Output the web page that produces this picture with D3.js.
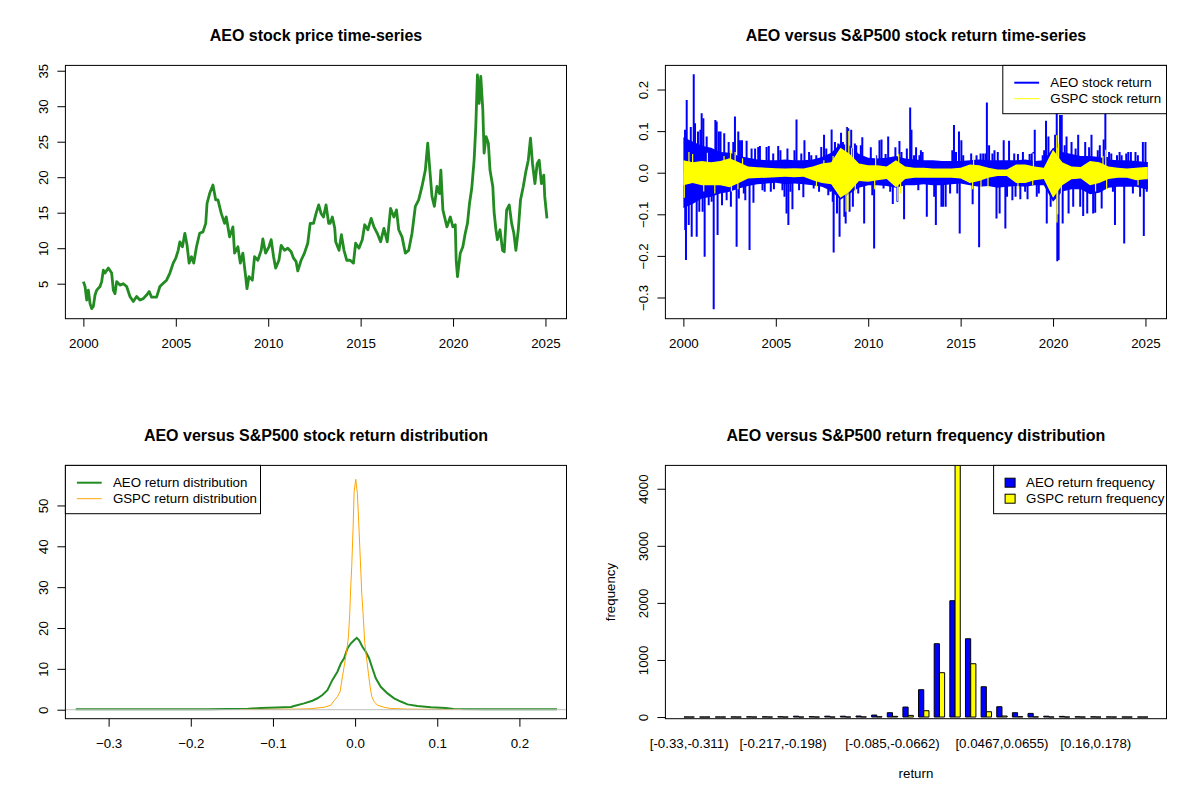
<!DOCTYPE html>
<meta charset="utf-8">
<style>
  body { margin: 0; background: #fff; }
  text { font-family: "Liberation Sans", Arial, sans-serif; }
</style>
<svg id="chart" width="1200" height="800"></svg>
<script src="https://d3js.org/d3.v7.min.js"></script>
<script>

// ---- AEO price (roughly every 2-3 months) ----
var priceYears = [2000.0,2000.09,2000.18,2000.27,2000.36,2000.45,2000.54,2000.63,2000.72,2000.90,2000.99,
  2001.08,2001.17,2001.35,2001.53,2001.62,2001.71,2001.80,2001.98,2002.16,2002.34,2002.52,2002.70,2002.88,
  2003.06,2003.24,2003.42,2003.56,2003.69,2003.96,2004.14,2004.32,2004.50,2004.68,2004.86,2005.00,2005.13,
  2005.22,2005.36,2005.49,2005.61,2005.72,2005.85,2005.97,2006.12,2006.29,2006.47,2006.62,2006.69,2006.83,
  2007.01,2007.16,2007.28,2007.46,2007.64,2007.73,2007.91,2008.09,2008.18,2008.36,2008.49,2008.63,2008.78,
  2008.85,2008.96,2009.14,2009.26,2009.44,2009.62,2009.71,2009.86,2010.04,2010.16,2010.29,2010.40,2010.58,
  2010.70,2010.88,2011.06,2011.24,2011.37,2011.51,2011.60,2011.78,2011.96,2012.14,2012.27,2012.45,2012.59,
  2012.73,2012.86,2012.99,2013.13,2013.27,2013.35,2013.47,2013.60,2013.65,2013.83,2013.96,2014.10,2014.25,
  2014.43,2014.61,2014.73,2014.91,2015.09,2015.22,2015.39,2015.57,2015.72,2015.90,2016.08,2016.26,2016.44,
  2016.62,2016.80,2016.94,2017.06,2017.24,2017.42,2017.60,2017.78,2017.96,2018.14,2018.32,2018.50,2018.63,
  2018.73,2018.86,2018.99,2019.13,2019.27,2019.34,2019.45,2019.67,2019.85,2019.99,2020.12,2020.17,2020.24,
  2020.39,2020.53,2020.66,2020.78,2020.89,2021.01,2021.14,2021.23,2021.32,2021.41,2021.50,2021.61,2021.68,
  2021.79,2021.91,2022.00,2022.15,2022.22,2022.32,2022.40,2022.54,2022.68,2022.77,2022.90,2023.04,2023.17,
  2023.29,2023.40,2023.53,2023.65,2023.80,2023.94,2024.07,2024.19,2024.30,2024.43,2024.55,2024.66,2024.78,
  2024.91,2024.96,2025.08];
var priceValues = [5.3,4.6,2.7,4.1,2.2,1.5,1.8,3.4,4.1,4.6,5.3,
  6.9,6.5,7.2,6.5,4.1,3.6,5.3,4.8,5.0,4.6,3.2,2.5,3.2,
  2.7,2.9,3.4,3.9,3.1,3.1,4.6,5.05,5.5,6.5,7.9,8.6,9.7,
  10.9,10.2,12.1,10.4,7.9,8.8,7.9,10.2,12.1,12.3,13.5,16.3,17.7,
  18.9,16.8,16.8,14.9,13.5,14.4,11.6,13.0,9.3,10.2,7.9,9.3,6.0,
  4.3,6.0,5.5,8.8,8.3,9.7,11.3,9.3,10.2,11.2,8.8,7.2,8.3,
  10.4,9.7,10.0,9.5,8.6,8.1,6.8,8.3,9.3,10.7,13.5,13.5,14.9,
  16.1,14.9,14.4,16.1,13.5,13.5,14.4,12.8,10.9,9.7,11.9,9.7,8.3,
  8.3,7.9,10.7,10.0,11.2,13.3,12.6,14.2,13.0,12.1,10.9,12.8,10.9,
  15.6,14.4,15.4,12.6,11.6,9.3,9.7,12.1,15.9,16.8,18.7,21.0,24.8,
  21.5,17.3,15.9,18.7,17.7,21.0,15.4,13.0,14.4,13.0,13.3,8.3,6.0,
  9.3,10.2,12.1,13.5,16.3,18.4,22.4,27.1,34.4,30.4,34.2,29.5,23.4,
  25.7,24.8,21.0,18.7,15.1,12.6,11.2,12.6,9.7,9.5,15.4,16.1,13.5,
  12.1,9.7,12.6,16.8,18.7,20.8,22.4,25.5,21.9,19.1,21.9,22.4,19.1,
  20.3,17.3,14.2];

// ---- daily returns: half-year envelope of the dense band plus the spikes that stick out ----
var bandYears = [2000.0,2000.5,2001.0,2001.5,2002.0,2002.5,2003.0,2003.5,2004.0,2004.5,2005.0,2005.5,
  2006.0,2006.5,2007.0,2007.5,2008.0,2008.5,2009.0,2009.5,2010.0,2010.5,2011.0,2011.5,2012.0,2012.5,
  2013.0,2013.5,2014.0,2014.5,2015.0,2015.5,2016.0,2016.5,2017.0,2017.5,2018.0,2018.5,2019.0,2019.5,
  2020.0,2020.5,2021.0,2021.5,2022.0,2022.5,2023.0,2023.5,2024.0,2024.5,2025.0,2025.13];
var aeoHi = [0.085,0.075,0.065,0.060,0.050,0.048,0.040,0.036,0.032,0.030,0.030,0.032,
  0.030,0.030,0.032,0.038,0.048,0.070,0.065,0.045,0.036,0.034,0.036,0.040,0.034,0.032,
  0.030,0.030,0.028,0.028,0.028,0.030,0.032,0.030,0.030,0.030,0.030,0.032,0.028,0.030,
  0.060,0.050,0.045,0.040,0.040,0.038,0.032,0.030,0.030,0.028,0.026,0.026];
var aeoLo = [-0.085,-0.075,-0.062,-0.058,-0.050,-0.046,-0.038,-0.032,-0.028,-0.026,-0.024,-0.028,
  -0.026,-0.028,-0.030,-0.034,-0.044,-0.065,-0.050,-0.036,-0.030,-0.030,-0.032,-0.036,-0.030,-0.030,
  -0.028,-0.030,-0.030,-0.028,-0.026,-0.030,-0.034,-0.032,-0.036,-0.034,-0.032,-0.034,-0.030,-0.030,
  -0.070,-0.045,-0.040,-0.040,-0.052,-0.048,-0.036,-0.034,-0.034,-0.034,-0.040,-0.040];
var gspcHi = [0.030,0.025,0.028,0.025,0.028,0.035,0.025,0.015,0.013,0.012,0.011,0.010,
  0.011,0.010,0.015,0.022,0.025,0.060,0.045,0.022,0.018,0.018,0.015,0.030,0.015,0.012,
  0.012,0.010,0.010,0.010,0.012,0.020,0.018,0.012,0.008,0.008,0.020,0.020,0.015,0.012,
  0.055,0.025,0.015,0.014,0.028,0.025,0.015,0.012,0.010,0.012,0.014,0.014];
var gspcLo = [-0.030,-0.025,-0.030,-0.030,-0.030,-0.035,-0.025,-0.014,-0.013,-0.012,-0.011,-0.010,
  -0.011,-0.010,-0.018,-0.025,-0.028,-0.060,-0.045,-0.020,-0.022,-0.018,-0.015,-0.035,-0.015,-0.012,
  -0.012,-0.012,-0.012,-0.012,-0.014,-0.025,-0.020,-0.012,-0.008,-0.008,-0.025,-0.025,-0.018,-0.015,
  -0.060,-0.030,-0.016,-0.014,-0.030,-0.025,-0.015,-0.012,-0.012,-0.018,-0.016,-0.016];

var aeoSpikeYears = [2000.09,2000.10,2000.14,2000.18,2000.29,2000.40,2000.45,2000.56,2000.63,2000.72,2000.79,
  2000.86,2000.92,2000.99,2001.04,2001.08,2001.15,2001.26,2001.37,2001.53,2001.64,2001.73,2001.80,2001.85,
  2001.92,2002.01,2002.09,2002.21,2002.34,2002.45,2002.57,2002.70,2002.79,2002.88,2002.97,2003.06,2003.17,
  2003.27,2003.42,2003.58,2003.69,2003.79,2003.88,2004.05,2004.14,2004.28,2004.50,2004.62,2004.73,2005.13,
  2005.25,2005.36,2005.47,2005.58,2005.63,2005.68,2005.79,2005.90,2006.01,2006.12,2006.26,2006.49,2006.55,
  2006.80,2007.34,2007.46,2007.61,2007.73,2007.84,2008.02,2008.08,2008.13,2008.20,2008.31,2008.38,2008.45,
  2008.53,2008.71,2008.78,2008.85,2008.92,2008.99,2009.08,2009.17,2009.28,2009.46,2009.60,2009.68,2009.78,
  2010.14,2010.22,2010.32,2010.61,2010.72,2010.94,2011.08,2011.19,2011.33,2011.47,2011.58,2011.69,2011.94,
  2012.09,2012.27,2012.34,2012.59,2012.85,2013.17,2013.57,2013.66,2013.96,2014.05,2014.19,2014.55,2014.64,
  2014.91,2014.95,2015.04,2015.65,2016.00,2016.42,2016.54,2016.94,2017.11,2017.33,2017.42,2017.62,2017.80,
  2018.23,2018.62,2019.01,2019.62,2019.66,2019.75,2019.87,2020.11,2020.20,2020.23,2020.30,2020.38,2020.47,
  2020.52,2020.73,2020.84,2021.00,2021.09,2021.36,2021.47,2021.63,2021.85,2022.08,2022.17,2022.28,2022.63,
  2022.74,2022.83,2023.35,2023.85,2024.32,2024.86,2024.91,2025.00,
  // smaller ones along the band edge
  2003.00,2003.35,2004.40,2004.86,2004.90,2006.38,2006.92,2007.05,2007.19,2007.95,2008.63,2009.35,2010.43,
  2010.83,2011.80,2012.48,2012.71,2012.77,2012.94,2014.43,2014.75,2014.82,2015.14,2015.57,2015.86,2016.08,
  2016.22,2016.34,2016.72,2016.83,2017.01,2017.51,2017.90,2017.97,2018.10,2018.37,2018.49,2018.73,2018.84,
  2018.94,2019.12,2019.23,2019.44,2019.52,2020.63,2021.22,2021.74,2021.95,2022.42,2022.53,2022.92,2023.03,
  2023.15,2023.24,2023.46,2023.60,2023.71,2023.96,2024.07,2024.21,2024.46,2024.59,2024.71,2025.07];
var aeoSpikeValues = [0.103,-0.138,-0.21,0.175,-0.126,0.11,-0.154,0.237,0.119,-0.154,0.099,
  -0.094,0.103,0.143,-0.094,0.131,-0.202,0.087,-0.078,-0.07,-0.328,0.127,0.123,-0.15,
  0.099,0.099,-0.078,0.095,-0.066,0.074,-0.082,0.074,0.135,-0.178,0.099,0.078,0.078,
  -0.05,0.077,-0.186,0.058,-0.072,0.058,0.062,0.064,-0.042,0.062,0.064,-0.046,0.064,
  0.054,-0.042,-0.058,-0.098,0.058,-0.126,-0.046,-0.088,0.054,0.128,-0.042,-0.059,0.078,
  0.05,-0.046,0.062,0.091,0.058,-0.054,0.104,-0.07,-0.192,0.074,-0.098,0.07,-0.154,
  0.096,-0.106,-0.122,0.11,0.107,-0.094,0.103,-0.082,0.07,-0.05,0.066,0.085,-0.122,
  0.061,-0.054,-0.182,0.078,0.08,0.045,0.087,-0.046,-0.075,0.061,-0.07,0.076,-0.112,
  0.058,0.157,0.103,0.061,0.054,-0.106,-0.058,-0.126,-0.082,-0.082,-0.082,0.054,0.115,
  0.099,-0.146,0.078,-0.076,-0.179,0.169,0.066,-0.11,-0.098,0.078,-0.134,0.077,-0.066,
  -0.064,-0.064,0.103,0.125,-0.122,0.087,-0.082,0.091,0.147,-0.213,-0.21,0.139,0.139,
  -0.122,0.087,-0.098,0.074,-0.082,0.091,-0.082,-0.104,-0.098,0.091,-0.098,-0.096,-0.086,
  0.08,0.143,-0.126,-0.17,-0.05,0.074,-0.152,0.074,
  -0.062,-0.066,-0.046,0.046,-0.040,0.046,0.042,-0.038,0.042,-0.046,0.074,0.066,0.042,
  -0.038,0.050,0.042,-0.042,0.042,0.050,-0.050,0.050,-0.050,0.042,0.046,0.042,0.046,
  0.046,0.046,0.046,0.054,0.050,-0.058,0.046,-0.058,0.045,0.050,-0.046,0.045,0.046,
  0.050,-0.058,-0.050,0.042,0.054,0.066,0.058,0.074,0.061,0.054,0.066,0.038,0.050,
  0.046,-0.046,0.042,0.050,0.042,0.046,0.050,0.050,0.050,0.042,-0.058,-0.046];
var gspcSpikeYears = [2000.05,2000.30,2000.50,2001.10,2001.30,2001.70,2002.20,2002.55,2002.60,2002.80,2002.95,
  2003.20,2007.20,2007.60,2008.10,2008.60,2008.78,2008.80,2008.90,2008.95,2009.10,2009.20,2009.30,2010.35,
  2010.40,2011.60,2011.65,2011.75,2015.65,2015.70,2016.10,2016.48,2018.10,2018.90,2018.94,2020.20,2020.21,
  2020.22,2020.25,2020.30,2020.45,2022.30,2022.70,2022.85,2022.90,2024.60];
var gspcSpikeValues = [-0.06,0.05,0.045,-0.045,0.048,-0.05,0.04,0.055,-0.045,0.05,-0.04,
  0.035,-0.035,0.03,0.04,-0.04,0.11,-0.094,-0.09,0.10,0.06,0.07,-0.05,-0.04,
  0.043,-0.068,0.045,-0.05,-0.04,0.04,-0.035,-0.036,-0.04,-0.03,0.046,0.09,-0.12,
  0.06,-0.10,0.07,-0.05,-0.045,0.04,0.055,-0.04,-0.03];

// ---- kernel densities of the returns ----
var aeoDensX = [-0.340,-0.250,-0.180,-0.130,-0.115,-0.095,-0.078,-0.0742,-0.0621,-0.0519,-0.0458,-0.0398,
  -0.0337,-0.0276,-0.0215,-0.0174,-0.0134,-0.0093,-0.0053,-0.0012,0.002,0.0049,0.0089,0.013,0.017,0.0211,
  0.0252,0.0312,0.0394,0.0475,0.0556,0.0637,0.0759,0.0921,0.110,0.120,0.160,0.200,0.2457];
var aeoDensY = [0.10,0.10,0.12,0.25,0.40,0.55,0.65,0.9,1.55,2.2,2.8,3.6,
  4.8,7.3,9.3,11.3,12.6,15.0,16.2,17.0,17.6,17.0,15.4,14.2,12.6,10.1,
  7.7,5.6,4.0,2.8,2.0,1.3,0.9,0.6,0.4,0.2,0.12,0.1,0.1];
var gspcDensX = [-0.140,-0.100,-0.070,-0.054,-0.0377,-0.0296,-0.0256,-0.0215,-0.0183,-0.0154,-0.0134,
  -0.0101,-0.0081,-0.0065,-0.0053,-0.0041,-0.0024,-0.0012,0.0008,0.0028,0.0049,0.0069,0.0081,0.0097,
  0.0118,0.0142,0.0162,0.0183,0.0203,0.0231,0.0272,0.0353,0.0434,0.0637,0.100,0.130];
var gspcDensY = [0.05,0.1,0.15,0.25,0.6,1.1,2.2,3.2,4.4,8.1,10.5,
  14.6,17.9,23.6,30.1,35.0,44.8,53.3,56.4,52.9,43.6,34.2,28.5,23.6,
  16.2,12.2,8.9,5.6,3.2,2.0,1.1,0.6,0.3,0.15,0.08,0.05];

// ---- return frequency per bin (30 bins) ----
var binLabels = ["[-0.33,-0.311)","[-0.311,-0.292)","[-0.292,-0.273)","[-0.273,-0.255)","[-0.255,-0.236)",
  "[-0.236,-0.217)","[-0.217,-0.198)","[-0.198,-0.179)","[-0.179,-0.16)","[-0.16,-0.141)","[-0.141,-0.122)",
  "[-0.122,-0.104)","[-0.104,-0.085)","[-0.085,-0.0662)","[-0.0662,-0.0474)","[-0.0474,-0.0285)",
  "[-0.0285,-0.00967)","[-0.00967,0.00918)","[0.00918,0.028)","[0.028,0.0467)","[0.0467,0.0655)",
  "[0.0655,0.0844)","[0.0844,0.103)","[0.103,0.122)","[0.122,0.141)","[0.141,0.16)","[0.16,0.178)",
  "[0.178,0.197)","[0.197,0.216)","[0.216,0.235]"];
var shownBinLabels = [0, 6, 13, 20, 26];   // the ones R had room for
var aeoFreq = [1,0,1,2,3,3,5,15,6,15,15,18,35,76,175,479,1285,2038,1372,531,181,76,64,15,12,4,3,2,1,1];
var gspcFreq = [0,0,0,0,0,0,0,0,0,0,1,2,5,12,29,111,777,4520,934,93,18,6,3,1,0,0,0,0,0,0];

var yearTicks = [2000, 2005, 2010, 2015, 2020, 2025];
var priceTicks = [5, 10, 15, 20, 25, 30, 35];
var returnTicks = [-0.3, -0.2, -0.1, 0.0, 0.1, 0.2];
var densXTicks = [-0.3, -0.2, -0.1, 0.0, 0.1, 0.2];
var densYTicks = [0, 10, 20, 30, 40, 50];
var freqTicks = [0, 1000, 2000, 3000, 4000];

// plot region inside each 600x400 cell (R default margins at cex 0.83)
var L = 65.4, T = 65.4, W = 501.1, H = 253.3;
var svg = d3.select("#chart");
svg.append("rect").attr("width", 1200).attr("height", 800).attr("fill", "white");

function panel(col, row, id, title) {
  var g = svg.append("g").attr("transform", "translate(" + col * 600 + "," + row * 400 + ")");
  g.append("clipPath").attr("id", id).append("rect")
    .attr("x", L).attr("y", T).attr("width", W).attr("height", H);
  g.append("text").attr("x", L + W / 2).attr("y", 40.5)
    .attr("text-anchor", "middle").attr("font-size", 16).attr("font-weight", "bold")
    .text(title);
  g.plot = g.append("g").attr("clip-path", "url(#" + id + ")");
  return g;
}

function bottomAxis(g, x, ticks, fmt) {
  var ax = g.append("g").attr("transform", "translate(0," + (T + H) + ")")
    .call(d3.axisBottom(x).tickValues(ticks).tickSize(8).tickSizeOuter(0).tickFormat(fmt));
  ax.select(".domain").remove();
  ax.selectAll("line").attr("stroke", "black");
  ax.selectAll("text").attr("dy", 0).attr("y", 29.3)
    .attr("font-size", 13.3).attr("font-family", "Liberation Sans, Arial").attr("fill", "black");
}

function leftAxis(g, y, ticks, fmt) {
  var ax = g.append("g").attr("transform", "translate(" + L + ",0)")
    .call(d3.axisLeft(y).tickValues(ticks).tickSize(8).tickSizeOuter(0).tickFormat(fmt));
  ax.select(".domain").remove();
  ax.selectAll("line").attr("stroke", "black");
  ax.selectAll("text").attr("x", 0).attr("dy", 0).attr("text-anchor", "middle")
    .attr("transform", "translate(-17,0) rotate(-90)")
    .attr("font-size", 13.3).attr("font-family", "Liberation Sans, Arial").attr("fill", "black");
}

function box(g) {
  g.append("rect").attr("x", L).attr("y", T).attr("width", W).attr("height", H)
    .attr("fill", "none").attr("stroke", "black").attr("stroke-width", 1);
}

function legend(g, x0, width, items) {
  var lg = g.append("g");
  lg.append("rect").attr("x", x0).attr("y", T).attr("width", width).attr("height", 48.3)
    .attr("fill", "white").attr("stroke", "black");
  items.forEach(function(it, i) {
    var cy = T + 17.3 + i * 16;
    if (it.fill) {
      lg.append("rect").attr("x", x0 + 11.5).attr("y", cy - 4.5).attr("width", 10).attr("height", 9)
        .attr("fill", it.fill).attr("stroke", "black");
    } else {
      lg.append("line").attr("x1", x0 + 11.5).attr("x2", x0 + 36.3).attr("y1", cy).attr("y2", cy)
        .attr("stroke", it.color).attr("stroke-width", it.lw);
    }
    lg.append("text").attr("x", x0 + (it.fill ? 32.5 : 47.5)).attr("y", cy + 4.7)
      .attr("font-size", 13.3).text(it.label);
  });
}

// ---------- panel 1: price ----------
var p1 = panel(0, 0, "c1", "AEO stock price time-series");
var xYear = d3.scaleLinear().domain([1999.027, 2026.138]).range([L, L + W]);
var yPrice = d3.scaleLinear().domain([0.07, 35.75]).range([T + H, T]);
p1.plot.append("path")
  .datum(d3.zip(priceYears, priceValues))
  .attr("fill", "none").attr("stroke", "#228B22").attr("stroke-width", 2.8)
  .attr("stroke-linejoin", "round")
  .attr("d", d3.line().x(function(d) { return xYear(d[0]); }).y(function(d) { return yPrice(d[1]); }));
bottomAxis(p1, xYear, yearTicks, d3.format("d"));
leftAxis(p1, yPrice, priceTicks, d3.format("d"));
box(p1);

// ---------- panel 2: returns ----------
var p2 = panel(1, 0, "c2", "AEO versus S&P500 stock return time-series");
var yRet = d3.scaleLinear().domain([-0.351, 0.258]).range([T + H, T]);
function band(hi, lo) {
  return d3.area()
    .x(function(d, i) { return xYear(bandYears[i]); })
    .y0(function(d, i) { return yRet(lo[i]); })
    .y1(function(d, i) { return yRet(hi[i]); })(bandYears);
}
p2.plot.append("path").attr("d", band(aeoHi, aeoLo)).attr("fill", "#0000FF");
p2.plot.selectAll(".aeoSpike").data(d3.zip(aeoSpikeYears, aeoSpikeValues)).enter().append("line")
  .attr("x1", function(d) { return xYear(d[0]); }).attr("x2", function(d) { return xYear(d[0]); })
  .attr("y1", yRet(0)).attr("y2", function(d) { return yRet(d[1]); })
  .attr("stroke", "#0000FF").attr("stroke-width", 2);
p2.plot.append("path").attr("d", band(gspcHi, gspcLo)).attr("fill", "#FFFF00");
p2.plot.selectAll(".gspcSpike").data(d3.zip(gspcSpikeYears, gspcSpikeValues)).enter().append("line")
  .attr("x1", function(d) { return xYear(d[0]); }).attr("x2", function(d) { return xYear(d[0]); })
  .attr("y1", yRet(0)).attr("y2", function(d) { return yRet(d[1]); })
  .attr("stroke", "#FFFF00").attr("stroke-width", 1.2);
bottomAxis(p2, xYear, yearTicks, d3.format("d"));
leftAxis(p2, yRet, returnTicks, d3.format(".1f"));
box(p2);
legend(p2, 1002.8 - 600, L + W - (1002.8 - 600), [
  {label: "AEO stock return", color: "#0000FF", lw: 2},
  {label: "GSPC stock return", color: "#FFFF00", lw: 1}]);

// ---------- panel 3: densities ----------
var p3 = panel(0, 1, "c3", "AEO versus S&P500 stock return distribution");
var xDens = d3.scaleLinear().domain([-0.3526, 0.2573]).range([L, L + W]);
var yDens = d3.scaleLinear().domain([-2.2, 59.8]).range([T + H, T]);
var densLine = d3.line().x(function(d) { return xDens(d[0]); }).y(function(d) { return yDens(d[1]); });
p3.plot.append("path").datum(d3.zip(aeoDensX, aeoDensY)).attr("d", densLine)
  .attr("fill", "none").attr("stroke", "#228B22").attr("stroke-width", 2);
p3.plot.append("path").datum(d3.zip(gspcDensX, gspcDensY)).attr("d", densLine)
  .attr("fill", "none").attr("stroke", "#FFA500").attr("stroke-width", 1);
p3.plot.append("line").attr("x1", L).attr("x2", L + W).attr("y1", yDens(0)).attr("y2", yDens(0))
  .attr("stroke", "#BEBEBE").attr("stroke-width", 1);
bottomAxis(p3, xDens, densXTicks, d3.format(".1f"));
leftAxis(p3, yDens, densYTicks, d3.format("d"));
box(p3);
legend(p3, L, 260.5 - L, [
  {label: "AEO return distribution", color: "#228B22", lw: 2},
  {label: "GSPC return distribution", color: "#FFA500", lw: 1}]);

// ---------- panel 4: frequency bars ----------
var p4 = panel(1, 1, "c4", "AEO versus S&P500 return frequency distribution");
var xBar = d3.scaleLinear().domain([-2.56, 93.56]).range([L, L + W]);
var yFreq = d3.scaleLinear().domain([-29, 4409]).range([T + H, T]);
function barPath(x0, x1, v) {
  var p = d3.path();
  p.moveTo(xBar(x0), yFreq(0));
  p.lineTo(xBar(x1), yFreq(0));
  p.lineTo(xBar(x1), yFreq(v));
  p.lineTo(xBar(x0), yFreq(v));
  p.closePath();
  return p.toString();
}
p4.plot.selectAll(".aeoBar").data(aeoFreq).enter().append("path")
  .attr("d", function(d, i) { return barPath(1 + 3 * i, 2 + 3 * i, d); })
  .attr("fill", "#0000FF").attr("stroke", "black").attr("stroke-width", 1);
p4.plot.selectAll(".gspcBar").data(gspcFreq).enter().append("path")
  .attr("d", function(d, i) { return barPath(2 + 3 * i, 3 + 3 * i, d); })
  .attr("fill", "#FFFF00").attr("stroke", "black").attr("stroke-width", 1);
p4.selectAll(".binLabel").data(shownBinLabels).enter().append("text")
  .attr("x", function(i) { return xBar(2 + 3 * i); }).attr("y", T + H + 29.3)
  .attr("text-anchor", "middle").attr("font-size", 13.3)
  .text(function(i) { return binLabels[i]; });
leftAxis(p4, yFreq, freqTicks, d3.format("d"));
p4.append("text").attr("x", L + W / 2).attr("y", T + H + 59.3).attr("text-anchor", "middle")
  .attr("font-size", 13.3).text("return");
p4.append("text").attr("transform", "translate(" + (L - 50.9) + "," + (T + H / 2) + ") rotate(-90)")
  .attr("text-anchor", "middle").attr("font-size", 13.3).text("frequency");
box(p4);
legend(p4, 993.6 - 600, L + W - (993.6 - 600), [
  {label: "AEO return frequency", fill: "#0000FF"},
  {label: "GSPC return frequency", fill: "#FFFF00"}]);

</script>
